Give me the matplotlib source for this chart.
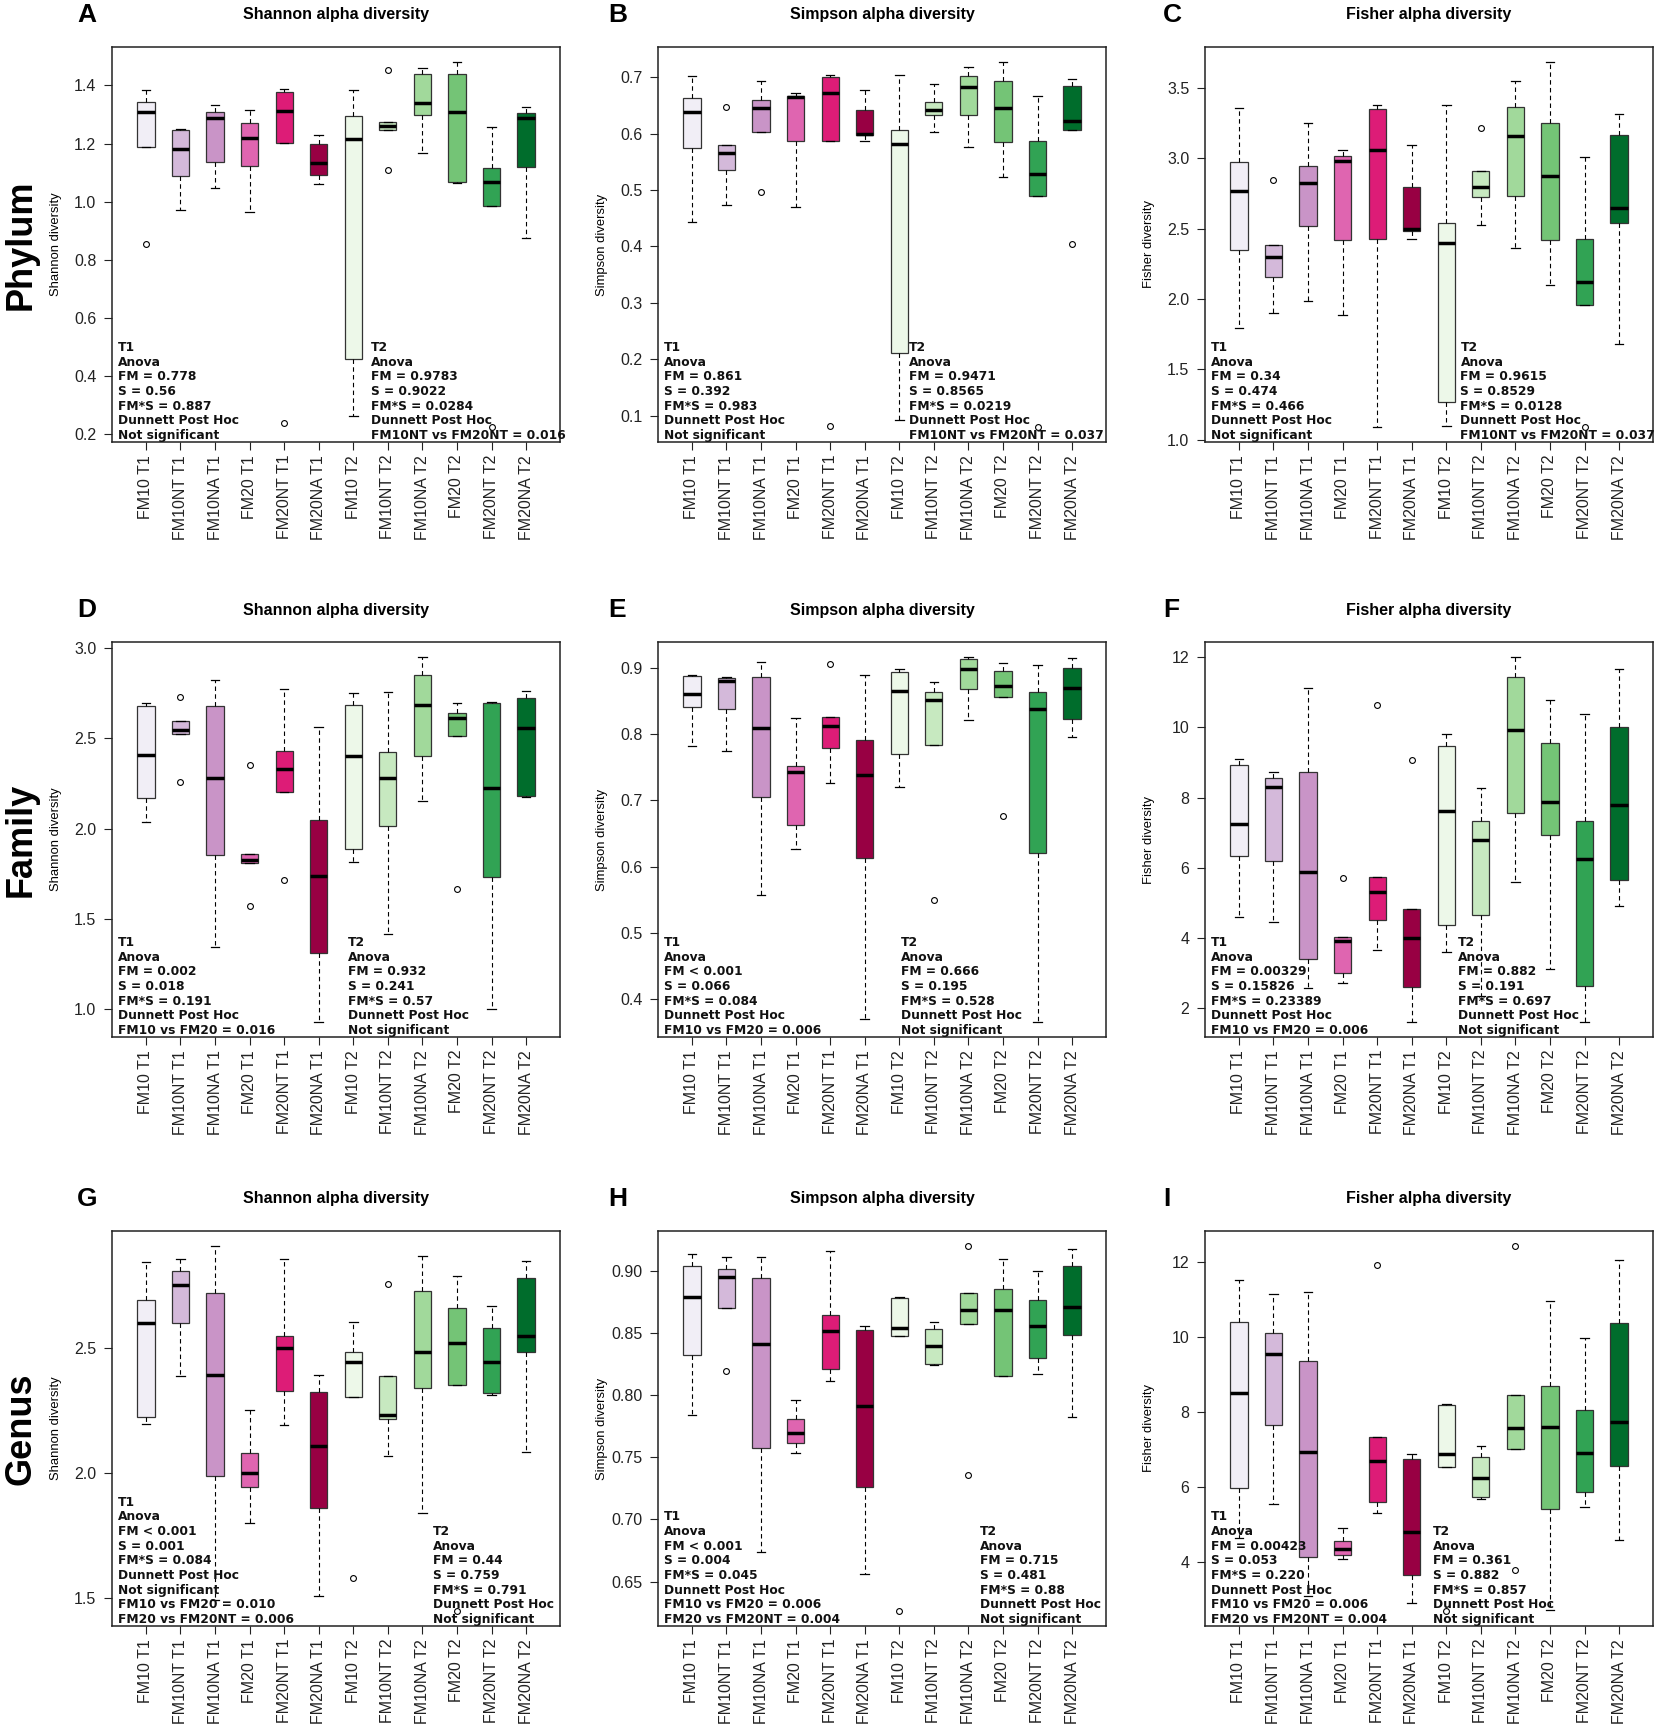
import matplotlib

matplotlib.use("Agg")
import matplotlib.pyplot as plt
import matplotlib.transforms as mtransforms

# ── layout (pixels of the 1654 x 1728 output) ─────────────────────
W, H = 1654, 1728
COL_LEFT = [112, 658, 1205]
ROW_TOP = [47, 642, 1231]
AX_W, AX_H = 448, 395
LETTER_X = [77, 608, 1163]

GROUPS = ["FM10 T1", "FM10NT T1", "FM10NA T1", "FM20 T1", "FM20NT T1", "FM20NA T1",
          "FM10 T2", "FM10NT T2", "FM10NA T2", "FM20 T2", "FM20NT T2", "FM20NA T2"]
COLORS = ["#F1EEF6", "#D4B9DA", "#C994C7", "#DF65B0", "#DD1C77", "#980043",
          "#EDF8E9", "#C7E9C0", "#A1D99B", "#74C476", "#31A354", "#006D2C"]

ROW_NAMES = ["Phylum", "Family", "Genus"]
COL_TITLES = ["Shannon alpha diversity", "Simpson alpha diversity", "Fisher alpha diversity"]
COL_YLABELS = ["Shannon diversity", "Simpson diversity", "Fisher diversity"]
LETTERS = ["A", "B", "C", "D", "E", "F", "G", "H", "I"]

# ── box statistics: [lower whisker, Q1, median, Q3, upper whisker] ─
PHYLUM_SHANNON = [[1.190, 1.190, 1.310, 1.343, 1.383], [0.971, 1.090, 1.182, 1.248, 1.250],
                  [1.046, 1.138, 1.287, 1.309, 1.333], [0.964, 1.124, 1.220, 1.272, 1.317],
                  [1.201, 1.201, 1.313, 1.377, 1.387], [1.061, 1.091, 1.133, 1.198, 1.229],
                  [0.263, 0.459, 1.216, 1.295, 1.383], [1.246, 1.246, 1.261, 1.274, 1.274],
                  [1.168, 1.300, 1.340, 1.441, 1.459], [1.064, 1.069, 1.309, 1.440, 1.482],
                  [0.984, 0.984, 1.067, 1.117, 1.256], [0.877, 1.121, 1.287, 1.304, 1.325]]
PHYLUM_SHANNON_OUT = [[0.856], [], [], [], [0.238], [], [], [1.452, 1.109], [], [], [0.224], []]

PHYLUM_SIMPSON = [[0.444, 0.574, 0.638, 0.663, 0.702], [0.473, 0.536, 0.565, 0.580, 0.580],
                  [0.603, 0.603, 0.645, 0.660, 0.693], [0.470, 0.587, 0.665, 0.667, 0.673],
                  [0.588, 0.588, 0.673, 0.701, 0.704], [0.587, 0.597, 0.599, 0.642, 0.677],
                  [0.092, 0.211, 0.582, 0.606, 0.704], [0.604, 0.634, 0.643, 0.657, 0.689],
                  [0.577, 0.634, 0.683, 0.702, 0.718], [0.524, 0.586, 0.645, 0.693, 0.728],
                  [0.489, 0.489, 0.529, 0.588, 0.667], [0.606, 0.606, 0.622, 0.685, 0.698]]
PHYLUM_SIMPSON_OUT = [[], [0.648], [0.497], [], [0.082], [], [], [], [], [], [0.079], [0.405]]

PHYLUM_FISHER = [[1.796, 2.348, 2.763, 2.969, 3.355], [1.898, 2.159, 2.301, 2.382, 2.382],
                 [1.988, 2.519, 2.825, 2.943, 3.249], [1.886, 2.419, 2.981, 3.012, 3.059],
                 [1.090, 2.424, 3.055, 3.348, 3.374], [2.422, 2.479, 2.493, 2.794, 3.095],
                 [1.102, 1.268, 2.398, 2.536, 3.377], [2.528, 2.727, 2.796, 2.910, 2.910],
                 [2.359, 2.732, 3.158, 3.364, 3.550], [2.100, 2.415, 2.869, 3.250, 3.684],
                 [1.957, 1.957, 2.122, 2.425, 3.004], [1.683, 2.539, 2.646, 3.166, 3.311]]
PHYLUM_FISHER_OUT = [[], [2.844], [], [], [], [], [], [3.213], [], [], [1.089], []]

FAMILY_SHANNON = [[2.035, 2.171, 2.409, 2.682, 2.695], [2.523, 2.523, 2.547, 2.594, 2.594],
                  [1.346, 1.853, 2.280, 2.680, 2.826], [1.809, 1.809, 1.827, 1.857, 1.857],
                  [2.203, 2.203, 2.329, 2.432, 2.774], [0.927, 1.313, 1.738, 2.050, 2.563],
                  [1.813, 1.890, 2.401, 2.685, 2.749], [1.415, 2.015, 2.282, 2.424, 2.755],
                  [2.155, 2.405, 2.683, 2.852, 2.953], [2.515, 2.515, 2.612, 2.638, 2.697],
                  [1.002, 1.730, 2.227, 2.695, 2.703], [2.173, 2.179, 2.555, 2.723, 2.761]]
FAMILY_SHANNON_OUT = [[], [2.731, 2.256], [], [2.351, 1.574], [1.718], [], [], [], [], [1.665], [], []]

FAMILY_SIMPSON = [[0.782, 0.841, 0.861, 0.888, 0.890], [0.775, 0.838, 0.880, 0.884, 0.886],
                  [0.557, 0.705, 0.809, 0.886, 0.909], [0.627, 0.663, 0.743, 0.752, 0.824],
                  [0.726, 0.779, 0.812, 0.826, 0.826], [0.370, 0.613, 0.739, 0.791, 0.890],
                  [0.720, 0.770, 0.865, 0.894, 0.898], [0.784, 0.784, 0.852, 0.863, 0.878],
                  [0.821, 0.868, 0.898, 0.913, 0.917], [0.856, 0.856, 0.872, 0.896, 0.907],
                  [0.365, 0.620, 0.838, 0.863, 0.904], [0.796, 0.823, 0.869, 0.900, 0.915]]
FAMILY_SIMPSON_OUT = [[], [], [], [], [0.906], [], [], [0.550], [], [0.677], [], []]

FAMILY_FISHER = [[4.60, 6.33, 7.24, 8.92, 9.11], [4.45, 6.18, 8.29, 8.56, 8.72],
                 [2.57, 3.41, 5.87, 8.74, 11.12], [2.70, 2.99, 3.90, 4.03, 4.03],
                 [3.65, 4.51, 5.30, 5.74, 5.74], [1.59, 2.59, 3.99, 4.81, 4.81],
                 [3.59, 4.36, 7.63, 9.47, 9.80], [2.35, 4.64, 6.80, 7.32, 8.26],
                 [5.59, 7.57, 9.92, 11.43, 12.02], [3.11, 6.92, 7.87, 9.56, 10.77],
                 [1.59, 2.64, 6.24, 7.33, 10.38], [4.92, 5.64, 7.78, 10.00, 11.66]]
FAMILY_FISHER_OUT = [[], [], [], [5.71], [10.63], [9.07], [], [], [], [], [], []]

GENUS_SHANNON = [[2.196, 2.223, 2.597, 2.692, 2.844], [2.389, 2.597, 2.749, 2.807, 2.856],
                 [1.494, 1.988, 2.390, 2.719, 2.908], [1.799, 1.945, 1.998, 2.079, 2.251],
                 [2.193, 2.329, 2.501, 2.548, 2.856], [1.507, 1.861, 2.109, 2.324, 2.390],
                 [2.304, 2.304, 2.443, 2.484, 2.604], [2.068, 2.216, 2.233, 2.389, 2.389],
                 [1.841, 2.341, 2.483, 2.725, 2.868], [2.352, 2.352, 2.520, 2.659, 2.787],
                 [2.312, 2.318, 2.442, 2.578, 2.666], [2.085, 2.484, 2.547, 2.780, 2.847]]
GENUS_SHANNON_OUT = [[], [], [], [], [], [], [1.580], [2.753], [], [1.447], [], []]

GENUS_SIMPSON = [[0.784, 0.832, 0.879, 0.904, 0.913], [0.870, 0.870, 0.895, 0.901, 0.911],
                 [0.674, 0.757, 0.841, 0.894, 0.911], [0.753, 0.761, 0.769, 0.781, 0.796],
                 [0.811, 0.821, 0.851, 0.864, 0.916], [0.656, 0.726, 0.791, 0.852, 0.855],
                 [0.847, 0.847, 0.854, 0.878, 0.879], [0.824, 0.825, 0.839, 0.853, 0.859],
                 [0.857, 0.857, 0.868, 0.882, 0.882], [0.815, 0.815, 0.868, 0.885, 0.909],
                 [0.817, 0.830, 0.855, 0.876, 0.900], [0.782, 0.848, 0.871, 0.904, 0.917]]
GENUS_SIMPSON_OUT = [[], [0.819], [], [], [], [], [0.626], [], [0.920, 0.736], [], [], []]

GENUS_FISHER = [[4.63, 5.97, 8.49, 10.40, 11.51], [5.53, 7.66, 9.53, 10.10, 11.15],
                [3.09, 4.12, 6.92, 9.35, 11.20], [4.07, 4.18, 4.33, 4.56, 4.91],
                [5.29, 5.59, 6.69, 7.32, 7.32], [2.91, 3.66, 4.80, 6.74, 6.88],
                [6.54, 6.54, 6.88, 8.18, 8.22], [5.67, 5.72, 6.23, 6.80, 7.10],
                [7.00, 7.00, 7.56, 8.44, 8.44], [2.72, 5.41, 7.60, 8.68, 10.96],
                [5.45, 5.87, 6.89, 8.04, 9.97], [4.57, 6.56, 7.73, 10.36, 12.05]]
GENUS_FISHER_OUT = [[], [], [], [], [11.91], [], [2.68], [], [12.43, 3.78], [], [], []]

# ── y ticks ───────────────────────────────────────────────────────
YTICKS = [
    [0.2, 0.4, 0.6, 0.8, 1.0, 1.2, 1.4],
    [0.1, 0.2, 0.3, 0.4, 0.5, 0.6, 0.7],
    [1.0, 1.5, 2.0, 2.5, 3.0, 3.5],
    [1.0, 1.5, 2.0, 2.5, 3.0],
    [0.4, 0.5, 0.6, 0.7, 0.8, 0.9],
    [2, 4, 6, 8, 10, 12],
    [1.5, 2.0, 2.5],
    [0.65, 0.70, 0.75, 0.80, 0.85, 0.90],
    [4, 6, 8, 10, 12],
]
YTICK_FMT = ["{:.1f}", "{:.1f}", "{:.1f}", "{:.1f}", "{:.1f}", "{:.0f}", "{:.1f}", "{:.2f}", "{:.0f}"]

# ── statistics annotations ───────────────────────────────────────
T1_NOTES = [
    ["T1", "Anova", "FM = 0.778", "S = 0.56", "FM*S = 0.887", "Dunnett Post Hoc", "Not significant"],
    ["T1", "Anova", "FM = 0.861", "S = 0.392", "FM*S = 0.983", "Dunnett Post Hoc", "Not significant"],
    ["T1", "Anova", "FM = 0.34", "S = 0.474", "FM*S = 0.466", "Dunnett Post Hoc", "Not significant"],
    ["T1", "Anova", "FM = 0.002", "S = 0.018", "FM*S = 0.191", "Dunnett Post Hoc",
     "FM10 vs FM20 = 0.016"],
    ["T1", "Anova", "FM < 0.001", "S = 0.066", "FM*S = 0.084", "Dunnett Post Hoc",
     "FM10 vs FM20 = 0.006"],
    ["T1", "Anova", "FM = 0.00329", "S = 0.15826", "FM*S = 0.23389", "Dunnett Post Hoc",
     "FM10 vs FM20 = 0.006"],
    ["T1", "Anova", "FM < 0.001", "S = 0.001", "FM*S = 0.084", "Dunnett Post Hoc", "Not significant",
     "FM10 vs FM20 = 0.010", "FM20 vs FM20NT = 0.006"],
    ["T1", "Anova", "FM < 0.001", "S = 0.004", "FM*S = 0.045", "Dunnett Post Hoc",
     "FM10 vs FM20 = 0.006", "FM20 vs FM20NT = 0.004"],
    ["T1", "Anova", "FM = 0.00423", "S = 0.053", "FM*S = 0.220", "Dunnett Post Hoc",
     "FM10 vs FM20 = 0.006", "FM20 vs FM20NT = 0.004"],
]
T2_NOTES = [
    ["T2", "Anova", "FM = 0.9783", "S = 0.9022", "FM*S = 0.0284", "Dunnett Post Hoc",
     "FM10NT vs FM20NT = 0.016"],
    ["T2", "Anova", "FM = 0.9471", "S = 0.8565", "FM*S = 0.0219", "Dunnett Post Hoc",
     "FM10NT vs FM20NT = 0.037"],
    ["T2", "Anova", "FM = 0.9615", "S = 0.8529", "FM*S = 0.0128", "Dunnett Post Hoc",
     "FM10NT vs FM20NT = 0.037"],
    ["T2", "Anova", "FM = 0.932", "S = 0.241", "FM*S = 0.57", "Dunnett Post Hoc", "Not significant"],
    ["T2", "Anova", "FM = 0.666", "S = 0.195", "FM*S = 0.528", "Dunnett Post Hoc", "Not significant"],
    ["T2", "Anova", "FM = 0.882", "S = 0.191", "FM*S = 0.697", "Dunnett Post Hoc", "Not significant"],
    ["T2", "Anova", "FM = 0.44", "S = 0.759", "FM*S = 0.791", "Dunnett Post Hoc", "Not significant"],
    ["T2", "Anova", "FM = 0.715", "S = 0.481", "FM*S = 0.88", "Dunnett Post Hoc", "Not significant"],
    ["T2", "Anova", "FM = 0.361", "S = 0.882", "FM*S = 0.857", "Dunnett Post Hoc", "Not significant"],
]
T1_X = 0.2
T2_X = [7.50, 7.29, 7.41, 6.85, 7.05, 7.34, 9.31, 9.34, 6.62]

PANELS = [
    (PHYLUM_SHANNON, PHYLUM_SHANNON_OUT), (PHYLUM_SIMPSON, PHYLUM_SIMPSON_OUT),
    (PHYLUM_FISHER, PHYLUM_FISHER_OUT),
    (FAMILY_SHANNON, FAMILY_SHANNON_OUT), (FAMILY_SIMPSON, FAMILY_SIMPSON_OUT),
    (FAMILY_FISHER, FAMILY_FISHER_OUT),
    (GENUS_SHANNON, GENUS_SHANNON_OUT), (GENUS_SIMPSON, GENUS_SIMPSON_OUT),
    (GENUS_FISHER, GENUS_FISHER_OUT),
]

SANS = "Liberation Sans"
NOTE_FONT = "DejaVu Sans"
LINE_PX = 14.67


def px_rect(left, top, w, h):
    return [left / W, 1 - (top + h) / H, w / W, h / H]


def draw_panel(fig, idx):
    r, c = divmod(idx, 3)
    stats5, outs = PANELS[idx]
    ax = fig.add_axes(px_rect(COL_LEFT[c], ROW_TOP[r], AX_W, AX_H))

    stats = []
    for s, fl in zip(stats5, outs):
        stats.append(dict(whislo=s[0], q1=s[1], med=s[2], q3=s[3], whishi=s[4], fliers=fl))
    pos = list(range(1, len(GROUPS) + 1))
    bp = ax.bxp(stats, positions=pos, widths=0.5, capwidths=0.25, patch_artist=True,
                showfliers=True,
                boxprops=dict(edgecolor="#333333", linewidth=0.9),
                whiskerprops=dict(color="black", linewidth=0.8, linestyle=(0, (4, 3))),
                capprops=dict(color="black", linewidth=0.9),
                medianprops=dict(color="black", linewidth=2.5, solid_capstyle="butt"),
                flierprops=dict(marker="o", markersize=4.2, markerfacecolor="none",
                                markeredgecolor="black", markeredgewidth=0.8))
    for patch, col in zip(bp["boxes"], COLORS):
        patch.set_facecolor(col)

    # R-style limits: 4 % extension of the data range
    vals = [v for s in stats5 for v in (s[0], s[4])] + [v for fl in outs for v in fl]
    lo, hi = min(vals), max(vals)
    pad = 0.04 * (hi - lo)
    ax.set_ylim(lo - pad, hi + pad)
    n = len(GROUPS)
    ax.set_xlim(0.5 - 0.04 * n, n + 0.5 + 0.04 * n)

    ax.set_yticks(YTICKS[idx])
    ax.set_yticklabels([YTICK_FMT[idx].format(t) for t in YTICKS[idx]],
                       fontfamily=SANS, fontsize=11.5)
    ax.set_xticks(pos)
    ax.set_xticklabels(GROUPS, rotation=90, fontfamily=SANS, fontsize=11.5)
    ax.tick_params(axis="y", direction="out", length=5.8, width=0.8, pad=5.5, colors="#222222")
    ax.tick_params(axis="x", direction="out", length=5.8, width=0.8, pad=3.5, colors="#222222")
    for sp in ax.spines.values():
        sp.set_linewidth(1.1)
        sp.set_color("#222222")

    # annotation blocks, bottom aligned
    trans = mtransforms.blended_transform_factory(ax.transData, ax.transAxes)
    for x0, lines in ((T1_X, T1_NOTES[idx]), (T2_X[idx], T2_NOTES[idx])):
        for k, line in enumerate(reversed(lines)):
            y = (6.5 + k * LINE_PX) / AX_H
            ax.text(x0, y, line, transform=trans, ha="left", va="center",
                    fontfamily=NOTE_FONT, fontweight="bold", fontsize=8.8, color="#111111")

    # titles, letters, y label
    cx = COL_LEFT[c] + AX_W / 2
    fig.text(cx / W, 1 - (ROW_TOP[r] - 32) / H, COL_TITLES[c], ha="center", va="center",
             fontfamily=SANS, fontweight="bold", fontsize=11.5)
    fig.text(LETTER_X[c] / W, 1 - (ROW_TOP[r] - 32) / H, LETTERS[idx], ha="left", va="center",
             fontfamily=SANS, fontweight="bold", fontsize=19)
    fig.text((COL_LEFT[c] - 56) / W, 1 - (ROW_TOP[r] + AX_H / 2) / H, COL_YLABELS[c],
             rotation=90, ha="center", va="center", fontfamily=SANS, fontsize=9.4)
    return ax


def main():
    fig = plt.figure(figsize=(W / 100, H / 100), dpi=100)
    fig.patch.set_facecolor("white")
    for i in range(9):
        draw_panel(fig, i)
    for r, name in enumerate(ROW_NAMES):
        fig.text(21 / W, 1 - (ROW_TOP[r] + AX_H / 2) / H, name, rotation=90,
                 ha="center", va="center", fontfamily=SANS, fontweight="bold", fontsize=26)
    fig.savefig("out.png", dpi=100)
    plt.close(fig)


if __name__ == "__main__":
    main()
